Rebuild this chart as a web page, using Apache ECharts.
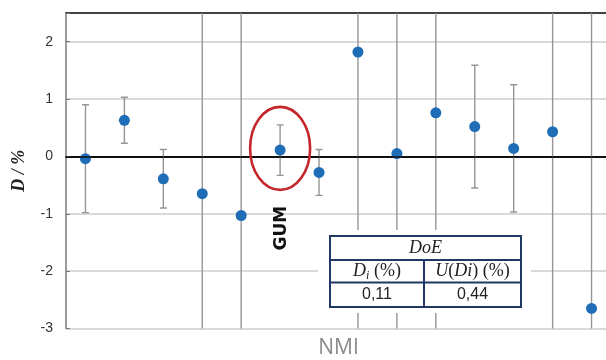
<!DOCTYPE html>
<html>
<head>
<meta charset="utf-8">
<script src="https://cdn.jsdelivr.net/npm/echarts@6/dist/echarts.min.js"></script>
<style>
  html, body { margin: 0; padding: 0; background: #fff; }
  #chart { width: 606px; height: 360px; }
</style>
</head>
<body>
<div id="chart"></div>
<script>
// Participating institutes, in reporting order
const labs = ['1', '2', '3', '4', '5', '6', '7', '8', '9', '10', '11', '12', '13', '14'];
// Degree of equivalence D (%) of each institute
const dValues = [-0.04, 0.63, -0.39, -0.65, -1.03, 0.11, -0.28, 1.82, 0.05, 0.76, 0.52, 0.14, 0.43, -2.65];
// Expanded uncertainty U(D) (%) of each institute
const uValues = [0.94, 0.40, 0.51, 3.40, 3.60, 0.44, 0.40, 5.00, 3.20, 3.90, 1.07, 1.11, 3.60, 5.30];
// Value axis range and step
const yMin = -3, yMax = 2.5, yStep = 1;
// Highlighted entry
const refIndex = 5;
const refLabel = 'GUM';
const tableTitle = 'DoE';

const fmt = v => v.toFixed(2).replace('.', ',');

const navy = '#1f3864';
const serif = 'Liberation Serif';

function renderErrorBar(params, api) {
  const x = api.value(0), d = api.value(1), u = api.value(2);
  const top = api.coord([x, d + u]);
  const bot = api.coord([x, d - u]);
  const cw = 3.5;
  const st = { stroke: '#959595', lineWidth: 1.4 };
  return {
    type: 'group',
    children: [
      { type: 'line', shape: { x1: top[0], y1: top[1], x2: bot[0], y2: bot[1] }, style: st },
      { type: 'line', shape: { x1: top[0] - cw, y1: top[1], x2: top[0] + cw, y2: top[1] }, style: st },
      { type: 'line', shape: { x1: bot[0] - cw, y1: bot[1], x2: bot[0] + cw, y2: bot[1] }, style: st }
    ]
  };
}

function renderHighlight(params, api) {
  const p = api.coord([api.value(0), api.value(1)]);
  return {
    type: 'group',
    children: [
      {
        type: 'ellipse',
        shape: { cx: p[0], cy: p[1] - 1.7, rx: 30, ry: 41.5 },
        style: { fill: 'none', stroke: '#c3262b', lineWidth: 2.6 }
      },
      {
        type: 'text',
        x: p[0] + 1, y: p[1] + 78,
        rotation: Math.PI / 2,
        style: {
          text: refLabel, fill: '#111',
          font: 'bold 17px "DejaVu Sans"',
          align: 'center', verticalAlign: 'middle'
        }
      }
    ]
  };
}

const chart = echarts.init(document.getElementById('chart'), null, { renderer: 'canvas' });

const cellText = (x, y, text, rich) => ({
  type: 'text', x, y, z: 103,
  style: {
    text, rich, fill: '#222',
    font: rich ? undefined : '16px "Liberation Sans"',
    align: 'center', verticalAlign: 'middle'
  }
});

const richStyles = {
  it: { fontFamily: serif, fontStyle: 'italic', fontSize: 18, color: '#222', lineHeight: 22 },
  n: { fontFamily: serif, fontSize: 18, color: '#222', lineHeight: 22 },
  sub: { fontFamily: serif, fontStyle: 'italic', fontSize: 12, color: '#222', lineHeight: 22, verticalAlign: 'bottom' }
};

chart.setOption({
  animation: false,
  grid: { left: 66, right: -5, top: 13, bottom: 31.5, outerBoundsMode: 'none', containLabel: false },
  xAxis: [
    {
      type: 'category', data: labs, position: 'bottom',
      axisLine: { lineStyle: { color: '#111', width: 1.8 } },
      axisTick: { show: false }, axisLabel: { show: false }, splitLine: { show: false },
      name: 'NMI', nameLocation: 'middle', nameGap: 9,
      nameTextStyle: { color: '#8a8a8a', fontSize: 21, fontFamily: 'Open Sans' }
    },
    {
      type: 'category', data: labs, position: 'top',
      axisLine: { lineStyle: { color: '#111', width: 1.6 } },
      axisTick: { show: false }, axisLabel: { show: false }, splitLine: { show: false }
    }
  ],
  yAxis: {
    type: 'value', min: yMin, max: yMax, interval: yStep,
    axisLine: { show: true, lineStyle: { color: '#7a7a7a', width: 1.5 } },
    axisTick: { show: true, inside: true, length: 4, lineStyle: { color: '#7a7a7a' } },
    axisLabel: {
      color: '#333', fontSize: 14, margin: 13, fontFamily: 'Liberation Sans',
      formatter: v => (Number.isInteger(v) ? String(v) : '')
    },
    splitLine: { lineStyle: { color: '#cccccc', width: 1.5 } },
    name: 'D / %', nameLocation: 'middle', nameGap: 38, nameRotate: 90,
    nameTextStyle: { fontFamily: serif, fontStyle: 'italic', fontWeight: 'bold', fontSize: 18, color: '#222' }
  },
  series: [
    {
      type: 'custom', name: 'U', clip: true, z: 2,
      renderItem: renderErrorBar,
      data: labs.map((l, i) => [i, dValues[i], uValues[i]])
    },
    {
      type: 'scatter', name: 'D', z: 4,
      symbolSize: 11,
      itemStyle: { color: '#1f6db6', opacity: 1 },
      data: labs.map((l, i) => [i, dValues[i]]),
      markLine: {
        silent: true, symbol: 'none', label: { show: false },
        lineStyle: { color: '#111', width: 1.6, type: 'solid' },
        data: [{ yAxis: 0 }]
      }
    },
    {
      type: 'custom', name: 'highlight', clip: false, z: 5,
      renderItem: renderHighlight,
      data: [[refIndex, dValues[refIndex]]]
    }
  ],
  graphic: [
    { type: 'rect', z: 100, shape: { x: 318, y: 230, width: 213, height: 83 }, style: { fill: '#fff' } },
    { type: 'rect', z: 101, shape: { x: 330, y: 236, width: 191, height: 71 }, style: { fill: '#fff', stroke: navy, lineWidth: 2 } },
    { type: 'line', z: 102, shape: { x1: 330, y1: 260, x2: 521, y2: 260 }, style: { stroke: navy, lineWidth: 2 } },
    { type: 'line', z: 102, shape: { x1: 330, y1: 282.5, x2: 521, y2: 282.5 }, style: { stroke: navy, lineWidth: 2 } },
    { type: 'line', z: 102, shape: { x1: 424, y1: 260, x2: 424, y2: 307 }, style: { stroke: navy, lineWidth: 2 } },
    cellText(425.5, 248, '{it|' + tableTitle + '}', richStyles),
    cellText(377, 271, '{it|D}{sub|i}{n| (%)}', richStyles),
    cellText(472.5, 271, '{it|U}{n|(}{it|Di}{n|) (%)}', richStyles),
    cellText(377, 295, fmt(dValues[refIndex])),
    cellText(472.5, 295, fmt(uValues[refIndex]))
  ]
});
</script>
</body>
</html>
